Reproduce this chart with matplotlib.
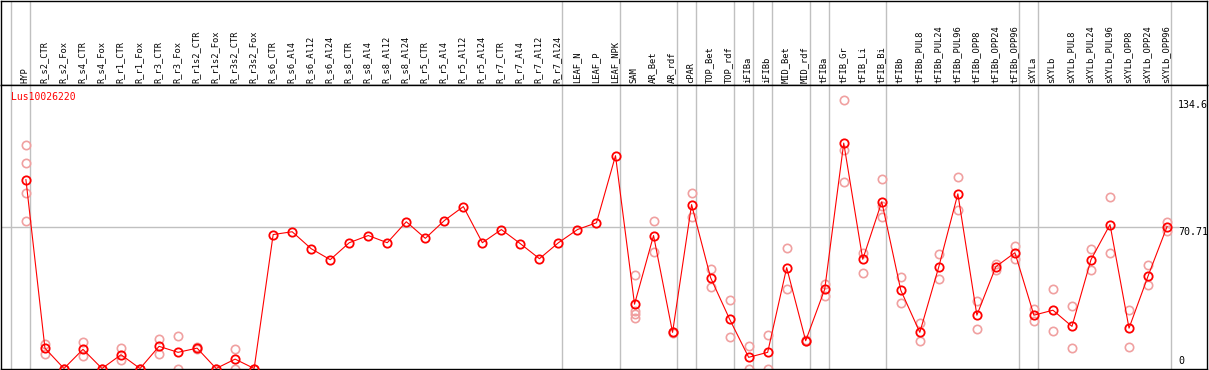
import matplotlib
matplotlib.use('Agg')
import matplotlib.pyplot as plt
import matplotlib.transforms as mtransforms

# sample names along the x axis
samples = ['HYP', 'R_s2_CTR', 'R_s2_Fox', 'R_s4_CTR', 'R_s4_Fox', 'R_r1_CTR', 'R_r1_Fox',
           'R_r3_CTR', 'R_r3_Fox', 'R_r1s2_CTR', 'R_r1s2_Fox', 'R_r3s2_CTR', 'R_r3s2_Fox',
           'R_s6_CTR', 'R_s6_Al4', 'R_s6_Al12', 'R_s6_Al24', 'R_s8_CTR', 'R_s8_Al4',
           'R_s8_Al12', 'R_s8_Al24', 'R_r5_CTR', 'R_r5_Al4', 'R_r5_Al12', 'R_r5_Al24',
           'R_r7_CTR', 'R_r7_Al4', 'R_r7_Al12', 'R_r7_Al24', 'LEAF_N', 'LEAF_P', 'LEAF_NPK',
           'SAM', 'AR_Bet', 'AR_rdf', 'cPAR', 'TOP_Bet', 'TOP_rdf', 'iFIBa', 'iFIBb',
           'MID_Bet', 'MID_rdf', 'tFIBa', 'tFIB_Gr', 'tFIB_Li', 'tFIB_Bi', 'tFIBb',
           'tFIBb_PUL8', 'tFIBb_PUL24', 'tFIBb_PUL96', 'tFIBb_OPP8', 'tFIBb_OPP24',
           'tFIBb_OPP96', 'sXYLa', 'sXYLb', 'sXYLb_PUL8', 'sXYLb_PUL24', 'sXYLb_PUL96',
           'sXYLb_OPP8', 'sXYLb_OPP24', 'sXYLb_OPP96']

# mean expression per sample
means = [94.6, 10.2, 0, 9.6, 0, 6.9, 0, 11.1, 8.1, 10.2, 0, 4.7, 0,
         67.1, 68.5, 60.0, 54.5, 63.0, 66.6, 63.0, 73.5, 65.2, 74.1, 81.1, 63.0,
         69.6, 62.5, 55.0, 63.0, 69.6, 73.0, 106.6,
         32.2, 66.6, 18.1, 82.1, 45.5, 24.7, 5.6, 8.1, 50.5, 13.9, 39.7,
         112.9, 54.7, 83.5, 39.2, 18.1, 51.0, 87.5, 26.7, 51.0, 58.0,
         26.7, 29.2, 21.1, 54.5, 72.1, 20.2, 46.3, 71.1]

# individual replicates per sample
replicates = [
    [111.9, 102.9, 88.0, 74.1], [12.2, 7.2], [0, 0], [13.4, 6.4], [0, 0], [10.2, 4.4], [0, 0],
    [14.7, 7.2], [16.1, 0], [10.7, 9.7], [0, 0], [9.6, 0], [0, 0],
    [], [], [], [], [], [], [], [], [], [], [], [], [], [], [], [], [], [], [],
    [46.7, 28.9, 27.2, 25.2], [74.0, 58.5], [18.1, 17.6], [88.0, 76.0], [50.0, 41.0],
    [34.2, 15.6], [11.2, 0], [16.7, 0], [60.5, 40.0], [13.6, 14.4], [42.2, 36.3],
    [134.6, 109.6, 93.5], [58.0, 47.7], [95.0, 81.3, 76.0], [46.0, 32.7], [22.6, 13.6],
    [57.2, 45.0], [96.0, 79.6], [33.7, 19.7], [52.5, 49.3], [61.3, 54.7],
    [29.7, 23.9], [39.7, 18.6], [31.4, 10.1], [60.0, 49.2], [86.0, 58.0], [29.2, 10.6],
    [51.7, 41.8], [73.6, 68.8]]

# last sample of each tissue group (separator drawn after it)
group_ends = [-1, 0, 28, 31, 34, 35, 37, 38, 39, 41, 42, 45, 52, 53, 60]

gene = 'Lus10026220'
y_labels = ['134.6', '70.71', '0']

W, H = 1209, 370
fig = plt.figure(figsize=(W / 100, H / 100), dpi=100)
fig.patch.set_facecolor('white')

mono = 'DejaVu Sans Mono'
red = '#ff0000'
pink = '#f0a0a0'
grey = '#c0c0c0'

xmin, xmax = -1.31, 62.1
ymax = 142.0

ax_lab = fig.add_axes([1 / W, 285 / H, 1206 / W, 84.5 / H])
ax = fig.add_axes([1 / W, 1.5 / H, 1206 / W, 283.5 / H])

for a in (ax_lab, ax):
    a.set_xlim(xmin, xmax)
    a.set_xticks([])
    a.set_yticks([])
    for s in a.spines.values():
        s.set_color('black')
        s.set_linewidth(1.0)
ax_lab.set_ylim(0, 1)
ax.set_ylim(0, ymax)

# group separators
for g in group_ends:
    ax.axvline(g + 0.21, color=grey, lw=1.0, zorder=1)
    ax_lab.axvline(g + 0.21, color=grey, lw=1.0, zorder=1)

ax.axhline(70.71, xmin=0, xmax=1177 / 1206, color=grey, lw=1.0, zorder=1)

# sample labels
for i, name in enumerate(samples):
    ax_lab.text(i - 0.05, 0.02, name, rotation=90, ha='center', va='bottom',
                fontsize=6.3, family=mono, color='black')

# replicates
for i, reps in enumerate(replicates):
    if reps:
        ax.plot([i] * len(reps), reps, ls='none', marker='o', ms=6, mfc='none',
                mec=pink, mew=1.2, zorder=2)

x = list(range(len(samples)))
ax.plot(x, means, color=red, lw=0.8, marker='o', ms=6, mfc='none', mec=red,
        mew=1.3, zorder=3)

ax.text(10 / 1206, 1 - 12 / 283.5, gene, transform=ax.transAxes, color=red,
        fontsize=7, family=mono, ha='left', va='center')

trans = mtransforms.blended_transform_factory(ax.transAxes, ax.transData)
ax.text(1177 / 1206, 134.6, y_labels[0], transform=trans, fontsize=7.2, family=mono,
        ha='left', va='top', clip_on=False)
ax.text(1177 / 1206, 70.71, y_labels[1], transform=trans, fontsize=7.2, family=mono,
        ha='left', va='top', clip_on=False)
ax.text(1177 / 1206, 1.5, y_labels[2], transform=trans, fontsize=7.2, family=mono,
        ha='left', va='bottom', clip_on=False)

fig.savefig('out.png', dpi=100, facecolor='white')
